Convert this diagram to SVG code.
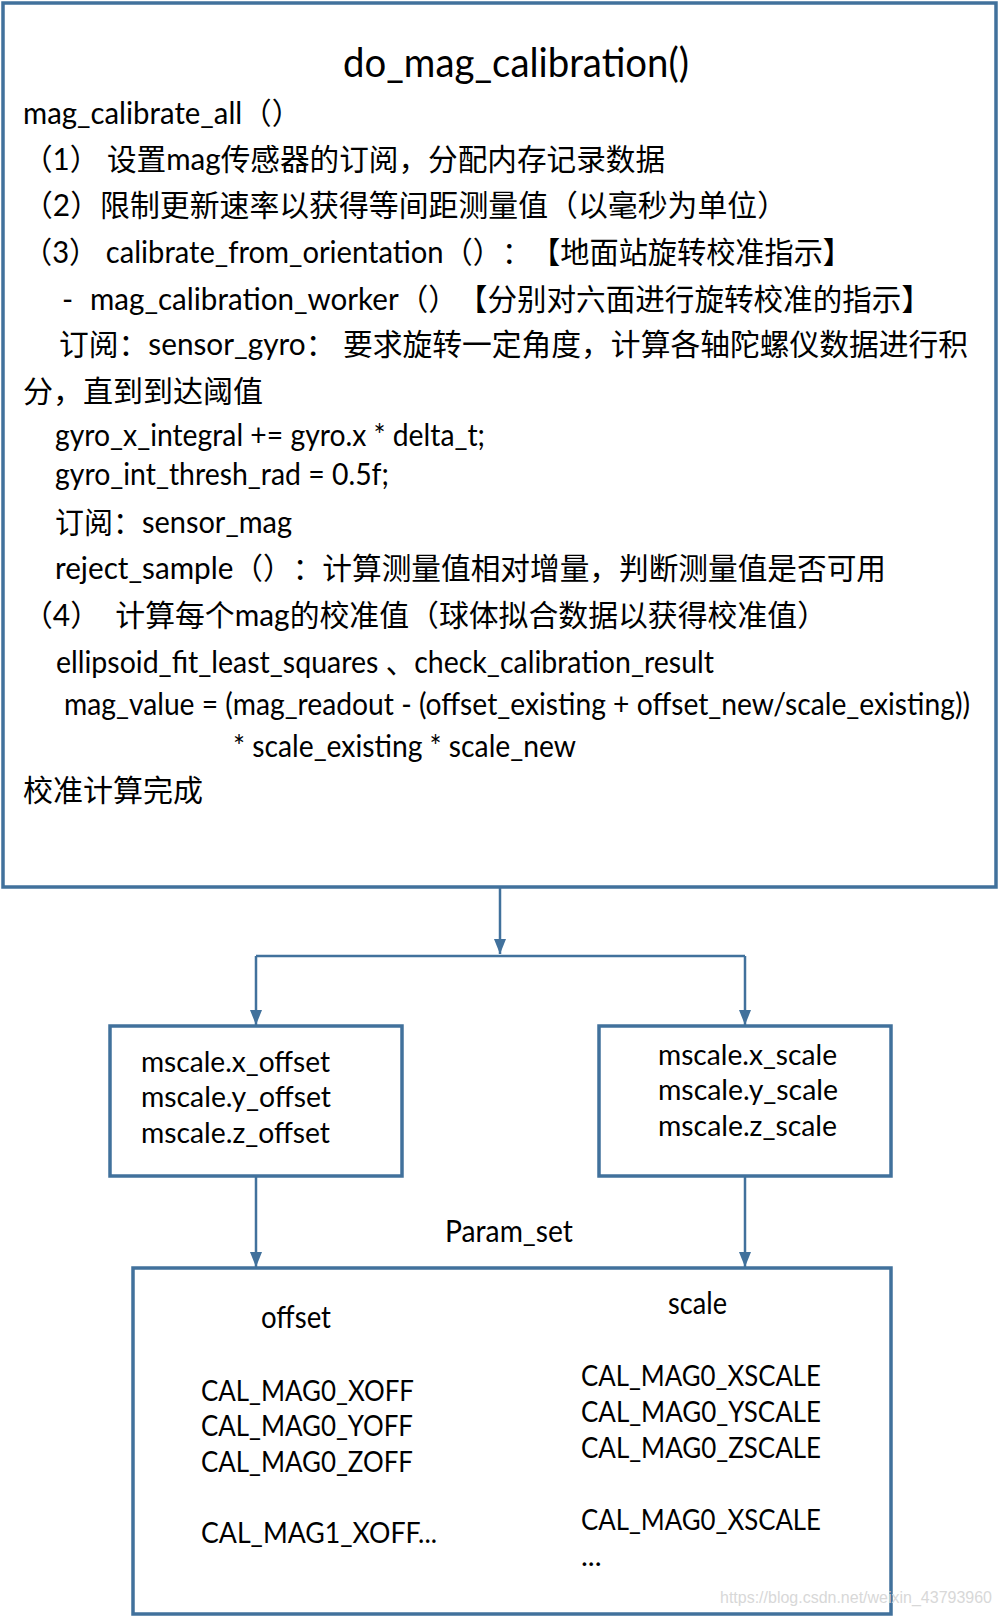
<svg xmlns="http://www.w3.org/2000/svg" width="1001" height="1617" viewBox="0 0 1001 1617">
<style>
.box{fill:#fff;stroke:#41719C;stroke-width:3.5}
.con{fill:none;stroke:#41719C;stroke-width:2.5}
text{font-family:Lato,"Noto Sans CJK SC",sans-serif;font-size:30px;fill:#000;text-spacing-trim:space-all}
.t{font-size:40px}
.s{font-size:29px}
.wm{font-family:"Liberation Sans",Arial,sans-serif;font-size:16px;fill:#d8d8d8}
</style>
<defs>
<marker id="ah" markerUnits="userSpaceOnUse" markerWidth="16" markerHeight="12" viewBox="0 0 16 12" refX="15" refY="6" orient="auto">
<path d="M0,0 L15,6 L0,12 Z" fill="#41719C"/>
</marker>
</defs>
<rect width="1001" height="1617" fill="#fff"/>
<g id="main">
<rect class="box" x="3" y="3" width="993" height="884"/>
<text class="t" x="516" y="77" text-anchor="middle" textLength="346" lengthAdjust="spacingAndGlyphs">do_mag_calibration()</text>
<text x="23" y="124" textLength="278" lengthAdjust="spacingAndGlyphs">mag_calibrate_all（）</text>
<text x="23" y="170" xml:space="preserve" textLength="642" lengthAdjust="spacingAndGlyphs">（1） 设置mag传感器的订阅，分配内存记录数据</text>
<text x="23" y="216" textLength="764" lengthAdjust="spacingAndGlyphs">（2）限制更新速率以获得等间距测量值（以毫秒为单位）</text>
<text x="23" y="263" xml:space="preserve" textLength="829" lengthAdjust="spacingAndGlyphs">（3） calibrate_from_orientation（）：【地面站旋转校准指示】</text>
<text x="62" y="310">-</text>
<text x="90" y="310" textLength="841" lengthAdjust="spacingAndGlyphs">mag_calibration_worker（）【分别对六面进行旋转校准的指示】</text>
<text x="59" y="355" xml:space="preserve" textLength="909" lengthAdjust="spacingAndGlyphs">订阅：sensor_gyro： 要求旋转一定角度，计算各轴陀螺仪数据进行积</text>
<text x="23" y="402">分，直到到达阈值</text>
<text x="55" y="446" textLength="430" lengthAdjust="spacingAndGlyphs">gyro_x_integral += gyro.x * delta_t;</text>
<text x="55" y="485" textLength="334" lengthAdjust="spacingAndGlyphs">gyro_int_thresh_rad = 0.5f;</text>
<text x="55" y="533" textLength="237" lengthAdjust="spacingAndGlyphs">订阅：sensor_mag</text>
<text x="55" y="579" textLength="831" lengthAdjust="spacingAndGlyphs">reject_sample（）：计算测量值相对增量，判断测量值是否可用</text>
<text x="23" y="626" xml:space="preserve" textLength="804" lengthAdjust="spacingAndGlyphs">（4）  计算每个mag的校准值（球体拟合数据以获得校准值）</text>
<text x="56" y="673" xml:space="preserve" textLength="658" lengthAdjust="spacingAndGlyphs">ellipsoid_fit_least_squares 、check_calibration_result</text>
<text x="64" y="715" font-size="27" textLength="906" lengthAdjust="spacingAndGlyphs">mag_value = (mag_readout - (offset_existing + offset_new/scale_existing))</text>
<text x="233" y="757" textLength="343" lengthAdjust="spacingAndGlyphs">* scale_existing * scale_new</text>
<text x="23" y="801">校准计算完成</text>
</g>
<g id="connectors">
<path class="con" d="M500,887 V954" marker-end="url(#ah)"/>
<path class="con" d="M256,956 H745"/>
<path class="con" d="M256,956 V1025" marker-end="url(#ah)"/>
<path class="con" d="M745,956 V1025" marker-end="url(#ah)"/>
<path class="con" d="M256,1176 V1267" marker-end="url(#ah)"/>
<path class="con" d="M745,1176 V1267" marker-end="url(#ah)"/>
</g>
<g id="offset-node">
<rect class="box" x="110" y="1026" width="292" height="150"/>
<text class="s" x="141" y="1072" textLength="189" lengthAdjust="spacingAndGlyphs">mscale.x_offset</text>
<text class="s" x="141" y="1107" textLength="190" lengthAdjust="spacingAndGlyphs">mscale.y_offset</text>
<text class="s" x="141" y="1143" textLength="189" lengthAdjust="spacingAndGlyphs">mscale.z_offset</text>
</g>
<g id="scale-node">
<rect class="box" x="599" y="1026" width="292" height="150"/>
<text class="s" x="658" y="1065" textLength="179" lengthAdjust="spacingAndGlyphs">mscale.x_scale</text>
<text class="s" x="658" y="1100" textLength="180" lengthAdjust="spacingAndGlyphs">mscale.y_scale</text>
<text class="s" x="658" y="1136" textLength="179" lengthAdjust="spacingAndGlyphs">mscale.z_scale</text>
</g>
<text id="param-label" x="445" y="1242" textLength="128" lengthAdjust="spacingAndGlyphs">Param_set</text>
<g id="param-node">
<rect class="box" x="133" y="1268" width="758" height="346"/>
<text x="261" y="1328" textLength="70" lengthAdjust="spacingAndGlyphs">offset</text>
<text x="668" y="1314" textLength="59" lengthAdjust="spacingAndGlyphs">scale</text>
<text class="s" x="201" y="1401" textLength="213" lengthAdjust="spacingAndGlyphs">CAL_MAG0_XOFF</text>
<text class="s" x="201" y="1436" textLength="212" lengthAdjust="spacingAndGlyphs">CAL_MAG0_YOFF</text>
<text class="s" x="201" y="1472" textLength="212" lengthAdjust="spacingAndGlyphs">CAL_MAG0_ZOFF</text>
<text class="s" x="201" y="1543" textLength="236" lengthAdjust="spacingAndGlyphs">CAL_MAG1_XOFF...</text>
<text class="s" x="581" y="1386" textLength="240" lengthAdjust="spacingAndGlyphs">CAL_MAG0_XSCALE</text>
<text class="s" x="581" y="1422" textLength="240" lengthAdjust="spacingAndGlyphs">CAL_MAG0_YSCALE</text>
<text class="s" x="581" y="1458" textLength="240" lengthAdjust="spacingAndGlyphs">CAL_MAG0_ZSCALE</text>
<text class="s" x="581" y="1530" textLength="240" lengthAdjust="spacingAndGlyphs">CAL_MAG0_XSCALE</text>
<text class="s" x="581" y="1566">...</text>
</g>
<text class="wm" x="720" y="1603" textLength="272" lengthAdjust="spacingAndGlyphs">https://blog.csdn.net/weixin_43793960</text>
</svg>
